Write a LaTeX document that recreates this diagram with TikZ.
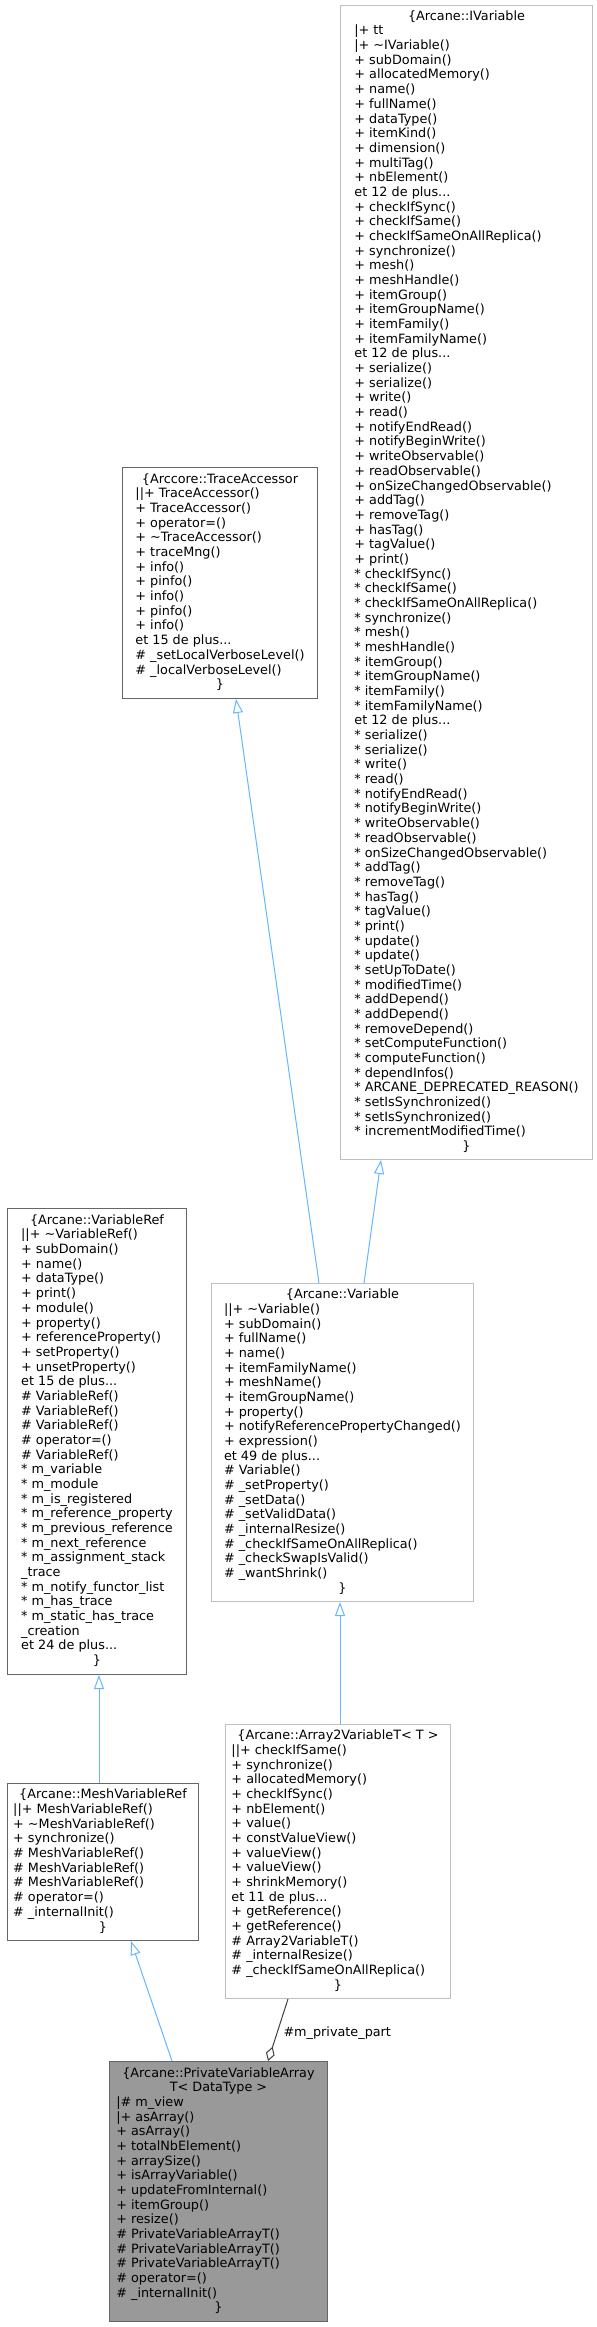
\documentclass[tikz,border=0pt]{standalone}
\usepackage{fontspec}
\newfontfamily\dv{DejaVu Sans}
\usetikzlibrary{arrows.meta}
\definecolor{edgeblue}{HTML}{63B8FF}
\definecolor{lightborder}{HTML}{BFBFBF}
\definecolor{darkborder}{HTML}{666666}
\definecolor{privfill}{HTML}{999999}
\definecolor{compedge}{HTML}{404040}
\newcommand{\clsfont}{\dv\fontsize{12.8}{14.68}\selectfont}
\newcommand{\hdr}[1]{\multicolumn{1}{c}{#1}}
\newcommand{\tl}{\textasciitilde}
\newcommand{\sr}{{*}}
\begin{document}
\begin{tikzpicture}[x=1pt,y=-1pt,
 clsbox/.style={rectangle, draw, line width=1pt, inner sep=0pt, anchor=north west, font=\clsfont, text=black},
 lightbox/.style={clsbox, draw=lightborder, fill=white},
 darkbox/.style={clsbox, draw=darkborder, fill=white},
 focusbox/.style={clsbox, draw=darkborder, fill=privfill},
 inherit/.style={draw=edgeblue, line width=1pt, -{Triangle[open,length=14pt,width=10pt,fill=white]}},
 compose/.style={draw=compedge, line width=1pt, {Diamond[open,length=15pt,width=9pt,fill=white]}-},
 edgelabel/.style={font=\clsfont, anchor=west, inner sep=0pt, text=black}
]
\useasboundingbox[fill=white] (0,0) rectangle (597,2327);

\node[lightbox, minimum width=252pt, minimum height=1154pt] (ivar) at (340,5) {\begin{tabular}{@{}l@{}}
\hdr{\{Arcane::IVariable}\\
|+ tt\\
|+ \tl IVariable()\\
+ subDomain()\\
+ allocatedMemory()\\
+ name()\\
+ fullName()\\
+ dataType()\\
+ itemKind()\\
+ dimension()\\
+ multiTag()\\
+ nbElement()\\
et 12 de plus...\\
+ checkIfSync()\\
+ checkIfSame()\\
+ checkIfSameOnAllReplica()\\
+ synchronize()\\
+ mesh()\\
+ meshHandle()\\
+ itemGroup()\\
+ itemGroupName()\\
+ itemFamily()\\
+ itemFamilyName()\\
et 12 de plus...\\
+ serialize()\\
+ serialize()\\
+ write()\\
+ read()\\
+ notifyEndRead()\\
+ notifyBeginWrite()\\
+ writeObservable()\\
+ readObservable()\\
+ onSizeChangedObservable()\\
+ addTag()\\
+ removeTag()\\
+ hasTag()\\
+ tagValue()\\
+ print()\\
\sr{} checkIfSync()\\
\sr{} checkIfSame()\\
\sr{} checkIfSameOnAllReplica()\\
\sr{} synchronize()\\
\sr{} mesh()\\
\sr{} meshHandle()\\
\sr{} itemGroup()\\
\sr{} itemGroupName()\\
\sr{} itemFamily()\\
\sr{} itemFamilyName()\\
et 12 de plus...\\
\sr{} serialize()\\
\sr{} serialize()\\
\sr{} write()\\
\sr{} read()\\
\sr{} notifyEndRead()\\
\sr{} notifyBeginWrite()\\
\sr{} writeObservable()\\
\sr{} readObservable()\\
\sr{} onSizeChangedObservable()\\
\sr{} addTag()\\
\sr{} removeTag()\\
\sr{} hasTag()\\
\sr{} tagValue()\\
\sr{} print()\\
\sr{} update()\\
\sr{} update()\\
\sr{} setUpToDate()\\
\sr{} modifiedTime()\\
\sr{} addDepend()\\
\sr{} addDepend()\\
\sr{} removeDepend()\\
\sr{} setComputeFunction()\\
\sr{} computeFunction()\\
\sr{} dependInfos()\\
\sr{} ARCANE\_DEPRECATED\_REASON()\\
\sr{} setIsSynchronized()\\
\sr{} setIsSynchronized()\\
\sr{} incrementModifiedTime()\\
\hdr{\}}
\end{tabular}};

\node[darkbox, minimum width=195pt, minimum height=231pt] (trace) at (122,467) {\begin{tabular}{@{}l@{}}
\hdr{\{Arccore::TraceAccessor}\\
||+ TraceAccessor()\\
+ TraceAccessor()\\
+ operator=()\\
+ \tl TraceAccessor()\\
+ traceMng()\\
+ info()\\
+ pinfo()\\
+ info()\\
+ pinfo()\\
+ info()\\
et 15 de plus...\\
\# \_setLocalVerboseLevel()\\
\# \_localVerboseLevel()\\
\hdr{\}}
\end{tabular}};

\node[lightbox, minimum width=262pt, minimum height=318pt] (var) at (211,1283) {\begin{tabular}{@{}l@{}}
\hdr{\{Arcane::Variable}\\
||+ \tl Variable()\\
+ subDomain()\\
+ fullName()\\
+ name()\\
+ itemFamilyName()\\
+ meshName()\\
+ itemGroupName()\\
+ property()\\
+ notifyReferencePropertyChanged()\\
+ expression()\\
et 49 de plus...\\
\# Variable()\\
\# \_setProperty()\\
\# \_setData()\\
\# \_setValidData()\\
\# \_internalResize()\\
\# \_checkIfSameOnAllReplica()\\
\# \_checkSwapIsValid()\\
\# \_wantShrink()\\
\hdr{\}}
\end{tabular}};

\node[darkbox, minimum width=179pt, minimum height=466pt] (vref) at (7,1208) {\begin{tabular}{@{}l@{}}
\hdr{\{Arcane::VariableRef}\\
||+ \tl VariableRef()\\
+ subDomain()\\
+ name()\\
+ dataType()\\
+ print()\\
+ module()\\
+ property()\\
+ referenceProperty()\\
+ setProperty()\\
+ unsetProperty()\\
et 15 de plus...\\
\# VariableRef()\\
\# VariableRef()\\
\# VariableRef()\\
\# operator=()\\
\# VariableRef()\\
\sr{} m\_variable\\
\sr{} m\_module\\
\sr{} m\_is\_registered\\
\sr{} m\_reference\_property\\
\sr{} m\_previous\_reference\\
\sr{} m\_next\_reference\\
\sr{} m\_assignment\_stack\\
\_trace\\
\sr{} m\_notify\_functor\_list\\
\sr{} m\_has\_trace\\
\sr{} m\_static\_has\_trace\\
\_creation\\
et 24 de plus...\\
\hdr{\}}
\end{tabular}};

\node[darkbox, minimum width=191pt, minimum height=157pt] (mesh) at (7,1783) {\begin{tabular}{@{}l@{}}
\hdr{\{Arcane::MeshVariableRef}\\
||+ MeshVariableRef()\\
+ \tl MeshVariableRef()\\
+ synchronize()\\
\# MeshVariableRef()\\
\# MeshVariableRef()\\
\# MeshVariableRef()\\
\# operator=()\\
\# \_internalInit()\\
\hdr{\}}
\end{tabular}};

\node[lightbox, minimum width=225pt, minimum height=274pt] (arr) at (225,1724) {\begin{tabular}{@{}l@{}}
\hdr{\{Arcane::Array2VariableT< T >}\\
||+ checkIfSame()\\
+ synchronize()\\
+ allocatedMemory()\\
+ checkIfSync()\\
+ nbElement()\\
+ value()\\
+ constValueView()\\
+ valueView()\\
+ valueView()\\
+ shrinkMemory()\\
et 11 de plus...\\
+ getReference()\\
+ getReference()\\
\# Array2VariableT()\\
\# \_internalResize()\\
\# \_checkIfSameOnAllReplica()\\
\hdr{\}}
\end{tabular}};

\node[focusbox, minimum width=218pt, minimum height=260pt] (priv) at (109,2061) {\begin{tabular}{@{}l@{}}
\hdr{\{Arcane::PrivateVariableArray}\\
\hdr{T< DataType >}\\
|\# m\_view\\
|+ asArray()\\
+ asArray()\\
+ totalNbElement()\\
+ arraySize()\\
+ isArrayVariable()\\
+ updateFromInternal()\\
+ itemGroup()\\
+ resize()\\
\# PrivateVariableArrayT()\\
\# PrivateVariableArrayT()\\
\# PrivateVariableArrayT()\\
\# operator=()\\
\# \_internalInit()\\
\hdr{\}}
\end{tabular}};

\draw[inherit] ([xshift=108pt]var.north west) -- ([xshift=114pt]trace.south west);
\draw[inherit] ([xshift=153pt]var.north west) -- ([xshift=41pt]ivar.south west);
\draw[inherit] ([xshift=115pt]arr.north west) -- ([xshift=129pt]var.south west);
\draw[inherit] ([xshift=92pt]mesh.north west) -- ([xshift=92pt]vref.south west);
\draw[inherit] ([xshift=63pt]priv.north west) -- ([xshift=124pt]mesh.south west);
\draw[compose] ([xshift=159pt]priv.north west) -- node[edgelabel, pos=0.45, xshift=6pt] (lbl) {\#m\_private\_part} ([xshift=63pt]arr.south west);
\end{tikzpicture}
\end{document}
